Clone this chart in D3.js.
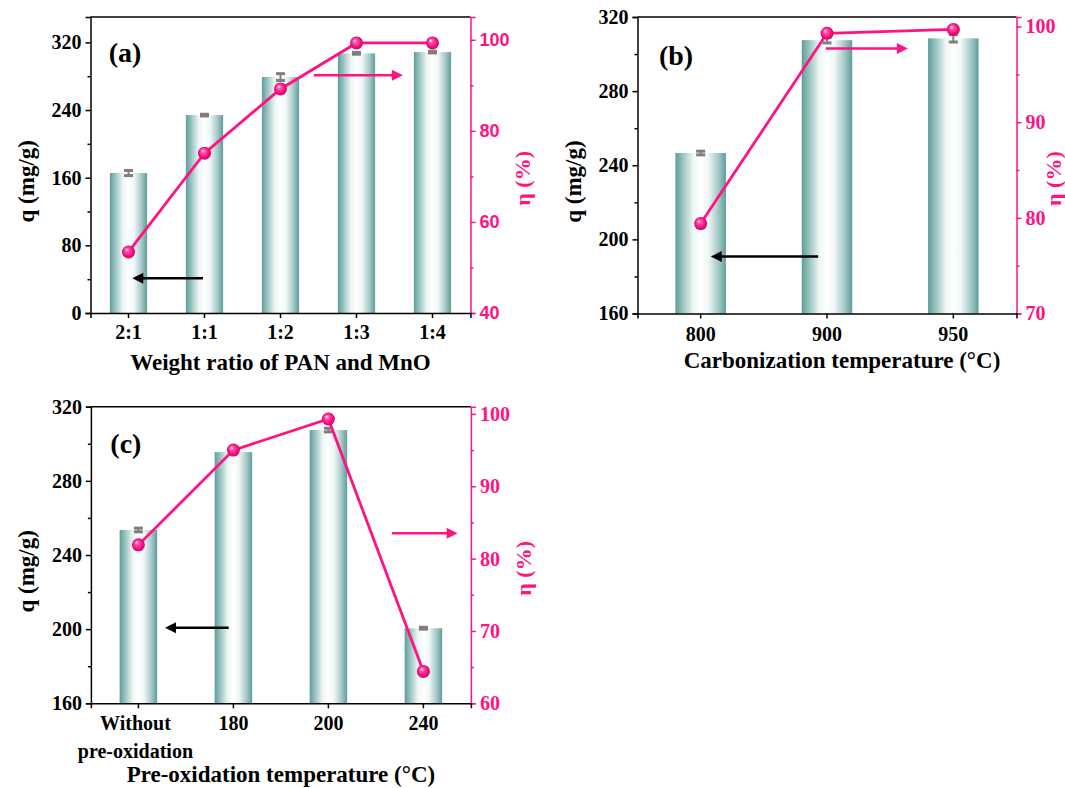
<!DOCTYPE html>
<html>
<head>
<meta charset="utf-8">
<script src="https://cdn.jsdelivr.net/npm/d3@7"></script>
<style>
  body { margin: 0; background: #fff; }
  text { font-family: "Liberation Serif", "Times New Roman", serif; font-weight: bold; }
</style>
</head>
<body>
<svg id="fig" width="1065" height="788"></svg>
<script>
// panel (a) - weight ratio
const ratioCats = ["2:1", "1:1", "1:2", "1:3", "1:4"];
const ratioQ = [165.5, 234, 279, 307, 308.5];
const ratioQErr = [3, 1, 4, 1, 1];
const ratioEta = [53.4, 75.1, 89.2, 99.3, 99.3];

// panel (b) - carbonization temperature
const carbCats = ["800", "900", "950"];
const carbQ = [246.6, 307.5, 308.5];
const carbQErr = [1, 1.5, 2];
const carbEta = [79.4, 99.3, 99.7];

// panel (c) - pre-oxidation temperature
const oxCats = ["Without|pre-oxidation", "180", "200", "240"];
const oxQ = [253.5, 295.5, 307.4, 200.5];
const oxQErr = [1, 0.5, 1, 0.5];
const oxEta = [81.9, 95.0, 99.3, 64.4];

// tick values
const qTicksA = [0, 80, 160, 240, 320], qMinorA = [40, 120, 200, 280];
const qTicks = [160, 200, 240, 280, 320], qMinor = [180, 220, 260, 300];
const etaTicksA = [40, 60, 80, 100], etaMinorA = [50, 70, 90];
const etaTicksB = [70, 80, 90, 100], etaMinorB = [75, 85, 95];
const etaTicksC = [60, 70, 80, 90, 100], etaMinorC = [65, 75, 85, 95];

// arrows: [from index, to index, value, axis]
const arrowsA = [[0.98, 0.05, 41, "q"], [2.44, 3.61, 92.2, "eta"]];
const arrowsB = [[0.93, 0.08, 190.7, "q"], [0.99, 1.64, 97.7, "eta"]];
const arrowsC = [[0.95, 0.28, 200.8, "q"], [2.67, 3.36, 83.5, "eta"]];

const pink = "#ff1382";
const svg = d3.select("#fig");
const defs = svg.append("defs");

// bar shading
const barGrad = defs.append("linearGradient").attr("id", "barGrad")
  .attr("x1", "0%").attr("x2", "100%").attr("y1", "0%").attr("y2", "0%");
[[0, "#5f9d9a"], [0.12, "#8dbcb9"], [0.35, "#eef6f5"], [0.5, "#ffffff"],
 [0.65, "#f0f6f6"], [0.85, "#a3c8c6"], [1, "#5f9d9a"]].forEach(s =>
  barGrad.append("stop").attr("offset", s[0]).attr("stop-color", s[1]));

// ball markers
const ballGrad = defs.append("radialGradient").attr("id", "ballGrad")
  .attr("cx", "50%").attr("cy", "50%").attr("r", "55%")
  .attr("fx", "35%").attr("fy", "30%");
[[0, "#ffe0ef"], [0.3, "#ff4fa3"], [0.75, "#f0087a"], [1, "#c8005f"]].forEach(s =>
  ballGrad.append("stop").attr("offset", s[0]).attr("stop-color", s[1]));

const drawPanel = cfg => {
  const g = svg.append("g");
  const n = cfg.cats.length;

  const x = d3.scaleBand().domain(cfg.cats).range([cfg.left, cfg.right]).padding(0);
  const xi = d3.scaleLinear().domain([-0.5, n - 0.5]).range([cfg.left, cfg.right]);
  const y = d3.scaleLinear().domain(cfg.qDomain).range([cfg.bottom, cfg.top]);
  const y2 = d3.scaleLinear().domain(cfg.etaDomain).range([cfg.bottom, cfg.top]);
  const bw = x.bandwidth() * cfg.barRatio;
  const cx = d => x(d) + x.bandwidth() / 2;

  // bars
  g.selectAll(".bar")
    .data(cfg.cats)
    .enter()
    .append("rect")
    .attr("x", d => cx(d) - bw / 2)
    .attr("y", (d, i) => y(cfg.q[i]))
    .attr("width", bw)
    .attr("height", (d, i) => cfg.bottom - y(cfg.q[i]))
    .attr("fill", "url(#barGrad)");

  // error bars
  const err = g.selectAll(".err")
    .data(cfg.cats)
    .enter()
    .append("g")
    .attr("stroke", "#7f7f7f")
    .attr("stroke-width", 3);
  err.append("line")
    .attr("x1", d => cx(d)).attr("x2", d => cx(d))
    .attr("y1", (d, i) => y(cfg.q[i] + cfg.qErr[i]))
    .attr("y2", (d, i) => y(cfg.q[i] - cfg.qErr[i]))
    .attr("stroke-width", 2);
  [1, -1].forEach(sgn => {
    err.append("line")
      .attr("x1", d => cx(d) - 4.5).attr("x2", d => cx(d) + 4.5)
      .attr("y1", (d, i) => y(cfg.q[i] + sgn * cfg.qErr[i]))
      .attr("y2", (d, i) => y(cfg.q[i] + sgn * cfg.qErr[i]));
  });

  // efficiency line
  const line = d3.line().x((d, i) => cx(cfg.cats[i])).y(d => y2(d));
  g.append("path")
    .attr("d", line(cfg.eta))
    .attr("fill", "none")
    .attr("stroke", pink)
    .attr("stroke-width", 2.8);
  g.selectAll(".ball")
    .data(cfg.eta)
    .enter()
    .append("circle")
    .attr("cx", (d, i) => cx(cfg.cats[i]))
    .attr("cy", d => y2(d))
    .attr("r", 6.5)
    .attr("fill", "url(#ballGrad)");

  // arrows
  cfg.arrows.forEach(a => {
    const col = a[3] === "q" ? "#000" : pink;
    const yy = a[3] === "q" ? y(a[2]) : y2(a[2]);
    const x0 = xi(a[0]), x1 = xi(a[1]);
    const dir = x1 > x0 ? 1 : -1;
    g.append("line")
      .attr("x1", x0).attr("x2", x1 - dir * 9)
      .attr("y1", yy).attr("y2", yy)
      .attr("stroke", col).attr("stroke-width", 2.5);
    g.append("path")
      .attr("d", `M${x1},${yy}L${x1 - dir * 11},${yy - 5.5}L${x1 - dir * 11},${yy + 5.5}Z`)
      .attr("fill", col);
  });

  // top frame
  g.append("line")
    .attr("x1", cfg.left).attr("x2", cfg.right)
    .attr("y1", cfg.top).attr("y2", cfg.top)
    .attr("stroke", "#000").attr("stroke-width", 1.5);

  // left axis
  const axL = g.append("g").attr("transform", `translate(${cfg.left},0)`)
    .call(d3.axisLeft(y).tickValues(cfg.qTicks).tickSize(5).tickPadding(4));
  g.append("g").attr("transform", `translate(${cfg.left},0)`)
    .call(d3.axisLeft(y).tickValues(cfg.qMinor).tickSize(3).tickFormat(""))
    .call(a => a.select(".domain").remove());
  axL.selectAll("text").style("font-size", "20px").attr("fill", "#000")
    .style("font-family", "'Liberation Serif', serif");

  // right axis
  const axR = g.append("g").attr("transform", `translate(${cfg.right},0)`)
    .call(d3.axisRight(y2).tickValues(cfg.etaTicks).tickSize(5).tickPadding(4));
  const axRm = g.append("g").attr("transform", `translate(${cfg.right},0)`)
    .call(d3.axisRight(y2).tickValues(cfg.etaMinor).tickSize(3).tickFormat(""));
  axRm.select(".domain").remove();
  [axR, axRm].forEach(a => {
    a.selectAll("line, path").attr("stroke", pink);
  });
  axR.selectAll("text").attr("fill", pink)
    .style("font-size", cfg.rightSans ? "18px" : "20px")
    .style("font-family", cfg.rightSans ? "'Liberation Sans', Arial, sans-serif" : "'Liberation Serif', serif");

  // bottom axis
  const axB = g.append("g").attr("transform", `translate(0,${cfg.bottom})`)
    .call(d3.axisBottom(x).tickSize(5).tickPadding(cfg.xPad));
  axB.selectAll("text").style("font-size", "20px").attr("fill", "#000")
    .style("font-family", "'Liberation Serif', serif")
    .each(function (d) {
      const parts = d.split("|");
      if (parts.length > 1) {
        const t = d3.select(this).text("");
        parts.forEach((p, k) => t.append("tspan").attr("x", -3).attr("dy", k === 0 ? "0.71em" : "1.4em").text(p));
        t.attr("dy", null);
      }
    });

  g.selectAll(".domain").attr("stroke-width", 1.5);
  g.selectAll(".tick line").attr("stroke-width", 1.5);

  // titles
  g.append("text")
    .attr("x", (cfg.left + cfg.right) / 2 + cfg.xTitleShift)
    .attr("y", cfg.xTitleY)
    .attr("dy", "0.35em")
    .attr("text-anchor", "middle")
    .style("font-size", "23px")
    .text(cfg.xTitle);

  const ly = cfg.top + 0.555 * (cfg.bottom - cfg.top);
  g.append("text")
    .attr("transform", `translate(${cfg.left - 65},${ly}) rotate(-90)`)
    .attr("dy", "0.35em")
    .attr("text-anchor", "middle")
    .style("font-size", "23px")
    .text("q (mg/g)");

  const ry = cfg.top + 0.545 * (cfg.bottom - cfg.top);
  g.append("text")
    .attr("transform", `translate(${cfg.right + cfg.etaTitleGap},${ry}) rotate(-90)`)
    .attr("dy", "0.35em")
    .attr("text-anchor", "middle")
    .attr("fill", pink)
    .style("font-size", "22px")
    .text("η (%)");

  g.append("text")
    .attr("x", cfg.left + cfg.tagDx)
    .attr("y", cfg.top + cfg.tagDy)
    .attr("dy", "0.35em")
    .attr("text-anchor", "middle")
    .style("font-size", "28px")
    .text(cfg.tag);
};

drawPanel({
  cats: ratioCats, q: ratioQ, qErr: ratioQErr, eta: ratioEta,
  qDomain: [0, 350], etaDomain: [40, 105],
  qTicks: qTicksA, qMinor: qMinorA, etaTicks: etaTicksA, etaMinor: etaMinorA,
  arrows: arrowsA,
  left: 90.5, right: 470.5, top: 17, bottom: 313,
  barRatio: 0.49, rightSans: true, xPad: 7,
  xTitle: "Weight ratio of PAN and MnO", xTitleY: 362, xTitleShift: 0,
  etaTitleGap: 52, tag: "(a)", tagDx: 34.5, tagDy: 35
});

drawPanel({
  cats: carbCats, q: carbQ, qErr: carbQErr, eta: carbEta,
  qDomain: [160, 320], etaDomain: [70, 101],
  qTicks: qTicks, qMinor: qMinor, etaTicks: etaTicksB, etaMinor: etaMinorB,
  arrows: arrowsB,
  left: 637.5, right: 1016.5, top: 17, bottom: 313.5,
  barRatio: 0.4, rightSans: false, xPad: 8,
  xTitle: "Carbonization temperature (°C)", xTitleY: 360, xTitleShift: 15,
  etaTitleGap: 37, tag: "(b)", tagDx: 38.5, tagDy: 38
});

drawPanel({
  cats: oxCats, q: oxQ, qErr: oxQErr, eta: oxEta,
  qDomain: [160, 320], etaDomain: [60, 101],
  qTicks: qTicks, qMinor: qMinor, etaTicks: etaTicksC, etaMinor: etaMinorC,
  arrows: arrowsC,
  left: 90.9, right: 470.9, top: 406.7, bottom: 703.3,
  barRatio: 0.395, rightSans: false, xPad: 8,
  xTitle: "Pre-oxidation temperature (°C)", xTitleY: 774, xTitleShift: 0,
  etaTitleGap: 52, tag: "(c)", tagDx: 35, tagDy: 36
});
</script>
</body>
</html>
